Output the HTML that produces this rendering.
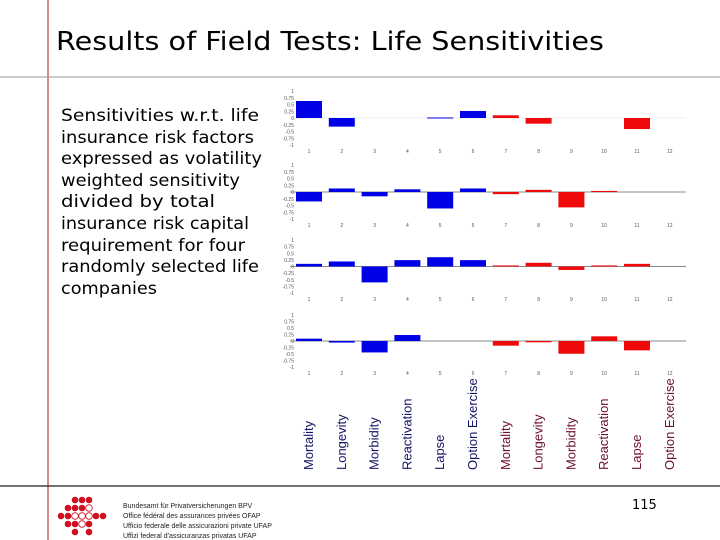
<!DOCTYPE html>
<html><head><meta charset="utf-8"><style>
body{margin:0;background:#fff;}
#slide{position:relative;width:720px;height:540px;overflow:hidden;font-family:"DejaVu Sans","Liberation Sans",sans-serif;}
</style></head><body>
<div id="slide">
<svg id="chart" width="720" height="540" style="position:absolute;left:0;top:0">
<line x1="48" y1="0" x2="48" y2="540" stroke="#c04040" stroke-width="1.2"/>
<line x1="0" y1="77" x2="720" y2="77" stroke="#999" stroke-width="1"/>
<line x1="0" y1="486" x2="720" y2="486" stroke="#222" stroke-width="1.2"/>
<text x="56" y="50" font-size="26" fill="#000" textLength="548" lengthAdjust="spacingAndGlyphs">Results of Field Tests: Life Sensitivities</text>
<g font-size="16.5" fill="#000">
<text x="61" y="121" textLength="198" lengthAdjust="spacingAndGlyphs">Sensitivities w.r.t. life</text>
<text x="61" y="143" textLength="193" lengthAdjust="spacingAndGlyphs">insurance risk factors</text>
<text x="61" y="164" textLength="201" lengthAdjust="spacingAndGlyphs">expressed as volatility</text>
<text x="61" y="186" textLength="179" lengthAdjust="spacingAndGlyphs">weighted sensitivity</text>
<text x="61" y="207" textLength="154" lengthAdjust="spacingAndGlyphs">divided by total</text>
<text x="61" y="229" textLength="188" lengthAdjust="spacingAndGlyphs">insurance risk capital</text>
<text x="61" y="251" textLength="184" lengthAdjust="spacingAndGlyphs">requirement for four</text>
<text x="61" y="272" textLength="198" lengthAdjust="spacingAndGlyphs">randomly selected life</text>
<text x="61" y="294" textLength="96" lengthAdjust="spacingAndGlyphs">companies</text>
</g>
<g id="plots"></g>
<g id="labels"></g>
<g id="logo"></g>
<g font-size="7" fill="#222" font-family="Liberation Sans, sans-serif">
<text x="123" y="508">Bundesamt für Privatversicherungen BPV</text>
<text x="123" y="518">Office fédéral des assurances privées OFAP</text>
<text x="123" y="528">Ufficio federale delle assicurazioni private UFAP</text>
<text x="123" y="538">Uffizi federal d'assicuranzas privatas UFAP</text>
</g>
<text x="632" y="509" font-size="13" fill="#000">115</text>
</svg>
</div>
<script>
const categories = ["Mortality","Longevity","Morbidity","Reactivation","Lapse","Option Exercise","Mortality","Longevity","Morbidity","Reactivation","Lapse","Option Exercise"];
const company1 = [0.63,-0.32,0,0,0.02,0.26,0.1,-0.21,0,0,-0.41,0];
const company2 = [-0.35,0.13,-0.16,0.1,-0.61,0.13,-0.08,0.08,-0.57,0.04,0,0];
const company3 = [0.1,0.19,-0.6,0.24,0.35,0.24,0.04,0.14,-0.13,0.04,0.1,0];
const company4 = [0.09,-0.06,-0.44,0.23,0,0,-0.18,-0.05,-0.49,0.18,-0.36,0];
const yTicks = ["1","0.75","0.5","0.25","0","-0.25","-0.5","-0.75","-1"];
const series = [company1,company2,company3,company4];
const panels = [{top:91,bot:145},{top:165,bot:219},{top:240,bot:293},{top:315,bot:367}];
const NS="http://www.w3.org/2000/svg";
function mk(tag,attrs,parent){const e=document.createElementNS(NS,tag);for(const k in attrs)e.setAttribute(k,attrs[k]);parent.appendChild(e);return e;}
function xPos(i){return 309+i*32.8;}
const plots=document.getElementById('plots');
series.forEach((vals,p)=>{
  const P=panels[p];
  const y=v=>P.top+(1-v)/2*(P.bot-P.top);
  const g=mk('g',{},plots);
  
  
  const z=mk('line',{x1:290,x2:686,y1:y(0),y2:y(0),stroke:p===0?'#eee':'#888','stroke-width':1},g);
  
  
  yTicks.forEach((t,k)=>{
    const v=1-k*0.25;
    const tx=mk('text',{x:294,y:y(v)+2,'font-size':5,'text-anchor':'end',fill:'#555','font-family':'Liberation Sans, sans-serif'},g);
    tx.textContent=t;
    
    
  });
  categories.forEach((c,i)=>{
    const tx=mk('text',{x:xPos(i),y:P.bot+8,'font-size':5,'text-anchor':'middle',fill:'#555','font-family':'Liberation Sans, sans-serif'},g);
    tx.textContent=String(i+1);
    
    
    const v=vals[i];
    if(v===0) return;
    const y0=y(0),y1=y(v);
    const r=mk('rect',{x:xPos(i)-13,y:Math.min(y0,y1),width:26,height:Math.max(1,Math.abs(y1-y0)),fill:i<6?'#0000e6':'#ee0a0a'},g);
    
    
  });
});
const labels=document.getElementById('labels');
categories.forEach((c,i)=>{
  const x=xPos(i)+4;
  const t=mk('text',{x:x,y:470,'font-size':13,fill:i<6?'#141464':'#6e1030','font-family':'Liberation Sans, sans-serif',transform:'rotate(-90 '+x+' 470)'},labels);
  t.textContent=c;
  
  
});
const logo=document.getElementById('logo');
const rows=[[ [75,1],[82,1],[89,1] ],[ [68,1],[75,1],[82,1],[89,0] ],[ [61,1],[68,1],[75,0],[82,0],[89,0],[96,1],[103,1] ],[ [68,1],[75,1],[82,0],[89,1] ],[ [75,1],[89,1] ]];
rows.forEach((r,ri)=>r.forEach(d=>{
  mk('circle',{cx:d[0],cy:500+ri*8,r:3.3,fill:d[1]?'#d01020':'#fff',stroke:'#d01020','stroke-width':d[1]?0:0.8},logo);
}));
</script>
</body></html>
